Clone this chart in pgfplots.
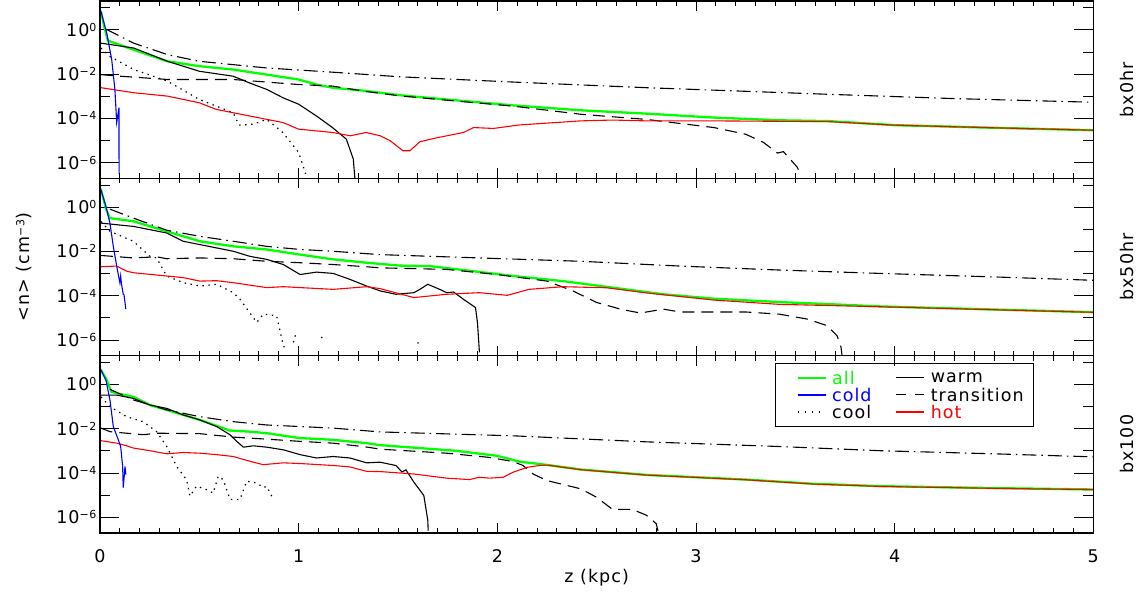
\documentclass[border=0pt]{standalone}
\usepackage{fontspec}
\setmainfont{DejaVu Sans}[LetterSpace=6]
\usepackage{pgfplots}
\pgfplotsset{compat=1.18}

\definecolor{allc}{RGB}{0,255,0}
\definecolor{coldc}{RGB}{0,0,255}
\definecolor{hotc}{RGB}{255,0,0}

\newcommand\figfont{\fontsize{17.5pt}{21pt}\selectfont}
\newcommand\supr[1]{\raisebox{5pt}{\fontsize{11pt}{11pt}\selectfont #1}}

% shared frame of every panel
\pgfplotsset{
  frame/.style={
    scale only axis, width=993.3pt, height=177.3pt,
    xmin=0, xmax=5, ymin=2e-7, ymax=2e1,
    tick align=inside,
    every tick/.append style={black, line width=0.9pt},
    axis line style={line width=1.2pt},
    tick label style={font=\figfont},
    label style={font=\figfont},
    unbounded coords=jump, clip mode=individual,
  },
  % decade ticks on the log axis (long)
  yside/.style={frame,
    xtick=\empty, minor x tick num=0,
    ytick={1e-6,1e-4,1e-2,1}, minor ytick={1e-5,1e-3,1e-1,10},
    yticklabels={10\supr{−6},10\supr{−4},10\supr{−2},10\supr{0}},
    major tick length=19pt, minor tick length=10pt,
    yticklabel style={anchor=base east, yshift=-6.4pt},
  },
  % distance ticks (short), drawn on an overlay of the same frame
  xside/.style={frame,
    ytick=\empty, yticklabels={},
    xtick={0,1,2,3,4,5}, minor x tick num=9,
    major tick length=10pt, minor tick length=5pt,
    xticklabel style={yshift=-13pt},
  },
  allline/.style={allc, line width=2.3pt, forget plot},
  warmline/.style={black, line width=1.1pt, forget plot},
  transline/.style={black, line width=1.1pt, dash pattern=on 12pt off 7pt, forget plot},
  coolline/.style={black, line width=1.2pt, dash pattern=on 1.4pt off 4.6pt, forget plot},
  refline/.style={black, line width=1.1pt, dash pattern=on 14pt off 5pt on 1.5pt off 5pt, forget plot},
  hotline/.style={hotc, line width=1.1pt, forget plot},
  coldline/.style={coldc, line width=1.1pt, forget plot},
}

\begin{document}
\begin{tikzpicture}
\useasboundingbox (0pt,0pt) rectangle (1143pt,603pt);

% ---------------- bx0hr ----------------
\begin{semilogyaxis}[yside, at={(100pt,424.7pt)}, anchor=south west]
\addplot[allline] coordinates {(0,7.1) (0.005,6.6) (0.02,1.6) (0.04,0.32) (0.05,0.30) (0.17,0.126) (0.34,0.038) (0.50,0.0229) (0.67,0.0162) (0.84,9.5e-3) (1.0,5.75e-3) (1.09,3.39e-3) (1.17,2.45e-3) (1.34,1.75e-3) (1.51,1.12e-3) (1.745,7.2e-4) (2.08,3.9e-4) (2.42,2.34e-4) (2.75,1.66e-4) (3.09,1.10e-4) (3.42,8.3e-5) (3.67,7.6e-5) (4.0,5.0e-5) (4.5,3.8e-5) (5.0,2.95e-5)};
\addplot[refline] coordinates {(0.03,1.07) (0.17,0.25) (0.34,0.076) (0.50,0.038) (0.84,0.019) (1.17,0.0123) (1.51,7.6e-3) (2.08,4.4e-3) (2.75,2.45e-3) (3.67,1.23e-3) (4.3,7.9e-4) (5.0,5.4e-4)};
\addplot[coolline] coordinates {(0.005,0.151) (0.05,0.063) (0.17,0.0162) (0.34,4.8e-3) (0.50,7.2e-4) (0.67,1.82e-4) (0.70,5.0e-5) (0.77,5.5e-5) (0.84,9.1e-5) (0.92,2.34e-5) (1.0,2.95e-6) (1.035,3.2e-7)};
\addplot[warmline] coordinates {(0.005,0.25) (0.17,0.151) (0.34,0.038) (0.50,0.0135) (0.67,8.1e-3) (0.75,4.1e-3) (0.84,2.04e-3) (0.92,8.7e-4) (1.0,4.4e-4) (1.09,1.29e-4) (1.17,3.9e-5) (1.24,1.17e-5) (1.275,1.48e-6) (1.283,2.0e-7)};
\addplot[transline] coordinates {(0.005,9.5e-3) (0.1,8.1e-3) (0.34,5.75e-3) (0.67,5.75e-3) (1.0,3.4e-3) (1.17,2.9e-3) (1.34,1.65e-3) (1.51,1.05e-3) (1.745,6.7e-4) (2.08,3.6e-4) (2.42,1.55e-4) (2.75,9.1e-5) (3.09,3.9e-5) (3.25,1.95e-5) (3.34,8.3e-6) (3.41,2.75e-6) (3.44,3.2e-6) (3.51,6.3e-7) (3.52,4.0e-7)};
\addplot[hotline] coordinates {(0.005,2.45e-3) (0.17,1.45e-3) (0.34,1.02e-3) (0.50,5.1e-4) (0.585,2.57e-4) (0.67,1.82e-4) (0.84,9.1e-5) (0.92,6.6e-5) (1.0,3.3e-5) (1.09,2.75e-5) (1.17,2.34e-5) (1.26,1.66e-5) (1.34,2.34e-5) (1.41,1.66e-5) (1.46,1.0e-5) (1.525,3.5e-6) (1.56,3.5e-6) (1.61,8.9e-6) (1.68,1.26e-5) (1.83,2.34e-5) (1.88,3.9e-5) (1.98,3.55e-5) (2.11,5.1e-5) (2.42,7.8e-5) (2.58,8.5e-5) (2.75,7.8e-5) (3.09,7.8e-5) (3.67,7.2e-5) (4.0,5.0e-5) (4.5,3.8e-5) (5.0,2.95e-5)};
\addplot[coldline] coordinates {(0,7.1) (0.005,6.6) (0.034,0.71) (0.059,0.045) (0.075,2.04e-3) (0.084,6.6e-5) (0.0955,3.1e-4) (0.096,3.2e-7)};
\node[rotate=90, font=\figfont] at (axis description cs:1.034,0.5) {bx0hr};
\end{semilogyaxis}
\begin{semilogyaxis}[xside, at={(100pt,424.7pt)}, anchor=south west, xticklabels={}]
\end{semilogyaxis}

% ---------------- bx50hr ----------------
\begin{semilogyaxis}[yside, at={(100pt,247.4pt)}, anchor=south west,
  ylabel={<n> (cm\supr{−3})},
  ylabel style={at={(axis description cs:-0.0765,0.5)}, anchor=center}]
\addplot[allline] coordinates {(0,7.0) (0.005,6.0) (0.032,0.76) (0.049,0.32) (0.168,0.23) (0.336,0.081) (0.503,0.0288) (0.671,0.0170) (0.839,0.0123) (1.007,7.2e-3) (1.174,4.4e-3) (1.342,3.1e-3) (1.51,2.3e-3) (1.66,2.19e-3) (1.83,1.45e-3) (2.08,7.8e-4) (2.33,4.6e-4) (2.58,2.34e-4) (2.835,1.17e-4) (3.09,7.4e-5) (3.42,5.2e-5) (3.67,4.2e-5) (3.93,3.3e-5) (4.5,2.4e-5) (5.0,1.82e-5)};
\addplot[refline] coordinates {(0.05,0.81) (0.168,0.32) (0.336,0.091) (0.503,0.048) (0.671,0.0288) (0.839,0.017) (1.007,0.0123) (1.174,0.0102) (1.41,7.2e-3) (1.91,5.1e-3) (2.42,3.6e-3) (2.92,2.19e-3) (3.42,1.45e-3) (3.93,1.02e-3) (4.5,7.1e-4) (5.0,5.0e-4)};
\addplot[coolline] coordinates {(0.005,0.224) (0.05,0.081) (0.168,0.0288) (0.252,6.0e-3) (0.285,5.1e-3) (0.336,7.8e-4) (0.419,3.9e-4) (0.503,2.75e-4) (0.587,3.3e-4) (0.671,1.38e-4) (0.705,6.9e-5) (0.789,6.3e-6) (0.822,1.48e-5) (0.889,1.26e-5) (0.923,5.6e-7) (0.939,3.3e-7) (0.95,nan) (0.973,7.9e-7) (0.99,2.6e-6) (1.0,nan) (1.115,1.4e-6) (1.12,1.1e-6) (1.3,nan) (1.6,8e-7) (1.605,5e-7)};
\addplot[warmline] coordinates {(0.005,0.19) (0.168,0.135) (0.336,0.068) (0.419,0.0288) (0.503,0.0204) (0.671,0.0102) (0.755,6.0e-3) (0.839,4.4e-3) (0.923,2.57e-3) (1.007,9.1e-4) (1.09,1.17e-3) (1.174,1.02e-3) (1.258,5.5e-4) (1.342,2.75e-4) (1.41,1.66e-4) (1.49,1.17e-4) (1.58,1.38e-4) (1.61,1.95e-4) (1.65,3.3e-4) (1.71,1.95e-4) (1.745,1.38e-4) (1.78,1.48e-4) (1.83,6.9e-5) (1.89,2.95e-5) (1.90,6.3e-6) (1.91,2.8e-7)};
\addplot[transline] coordinates {(0.005,6.6e-3) (0.168,5.1e-3) (0.285,5.75e-3) (0.336,4.7e-3) (0.503,5.1e-3) (0.671,4.7e-3) (0.839,3.6e-3) (1.007,3.1e-3) (1.174,2.57e-3) (1.342,2.04e-3) (1.41,1.82e-3) (1.745,1.55e-3) (2.0,9.1e-4) (2.25,4.6e-4) (2.38,1.66e-4) (2.5,5.0e-5) (2.62,2.5e-5) (2.72,1.66e-5) (2.835,2.5e-5) (2.92,1.86e-5) (3.09,1.86e-5) (3.25,1.86e-5) (3.42,1.48e-5) (3.56,8.9e-6) (3.66,4.5e-6) (3.71,1.58e-6) (3.73,4.8e-7) (3.735,2.1e-7)};
\addplot[hotline] coordinates {(0.005,2.04e-3) (0.084,2.2e-3) (0.134,1.29e-3) (0.168,1.1e-3) (0.336,7.8e-4) (0.419,6.6e-4) (0.503,4.6e-4) (0.587,4.8e-4) (0.671,3.9e-4) (0.839,2.34e-4) (0.923,2.57e-4) (1.174,1.95e-4) (1.342,2.57e-4) (1.41,2.1e-4) (1.58,8.3e-5) (1.745,1.17e-4) (1.91,1.38e-4) (2.05,1.05e-4) (2.16,1.95e-4) (2.33,2.57e-4) (2.55,2.3e-4) (2.75,1.35e-4) (3.09,6.4e-5) (3.42,4.1e-5) (3.93,3.2e-5) (4.5,2.35e-5) (5.0,1.8e-5)};
\addplot[coldline] coordinates {(0,7.0) (0.005,6.0) (0.03,1.07) (0.05,0.19) (0.067,0.017) (0.084,2.2e-3) (0.1,3.9e-4) (0.104,7.8e-4) (0.108,3.5e-4) (0.117,1.17e-4) (0.121,1.1e-4) (0.13,2.5e-5)};
\node[rotate=90, font=\figfont] at (axis description cs:1.034,0.5) {bx50hr};
\end{semilogyaxis}
\begin{semilogyaxis}[xside, at={(100pt,247.4pt)}, anchor=south west, xticklabels={}]
\end{semilogyaxis}

% ---------------- bx100 ----------------
\begin{semilogyaxis}[yside, at={(100pt,70.1pt)}, anchor=south west,
  legend columns=2, legend cell align=left,
  legend style={at={(axis description cs:0.680,0.9566)}, anchor=north west,
    draw=black, line width=1pt, fill=white, font=\figfont,
    inner xsep=10pt, inner ysep=7.5pt, row sep=3.7pt,
    nodes={inner sep=0pt, text depth=0pt},
    /tikz/every odd column/.style={column sep=6pt},
    /tikz/every even column/.style={column sep=13pt}},
  legend image code/.code={\path (-11pt,0pt); \draw[#1] (0pt,0pt) -- (28pt,0pt);}]
\addlegendimage{draw=allc, line width=1.2pt}\addlegendentry{\textcolor{allc}{all}}
\addlegendimage{draw=black, line width=1.1pt}\addlegendentry{warm}
\addlegendimage{draw=coldc, line width=1.2pt}\addlegendentry{\textcolor{coldc}{cold}}
\addlegendimage{draw=black, line width=1.1pt, dash pattern=on 10pt off 9pt}\addlegendentry{transition}
\addlegendimage{draw=black, line width=1.2pt, dash pattern=on 1.5pt off 5.5pt}\addlegendentry{cool}
\addlegendimage{draw=hotc, line width=1.2pt}\addlegendentry{\textcolor{hotc}{hot}}
\addplot[allline] coordinates {(0,5.0) (0.005,4.4) (0.03,1.86) (0.057,0.47) (0.084,0.40) (0.168,0.275) (0.252,0.117) (0.336,0.071) (0.503,0.025) (0.654,8.3e-3) (0.755,7.4e-3) (0.839,6.3e-3) (1.007,3.8e-3) (1.174,3.16e-3) (1.342,2.24e-3) (1.41,1.82e-3) (1.79,1.02e-3) (2.0,6.0e-4) (2.11,3.3e-4) (2.25,2.34e-4) (2.42,1.45e-4) (2.75,8.3e-5) (3.25,5.1e-5) (3.59,3.3e-5) (3.93,2.57e-5) (4.5,2.1e-5) (5.0,1.82e-5)};
\addplot[refline] coordinates {(0.05,0.6) (0.168,0.2) (0.336,0.071) (0.503,0.035) (0.671,0.0209) (0.839,0.0148) (1.007,0.0126) (1.174,0.0107) (1.41,7.2e-3) (2.08,4.8e-3) (2.75,2.57e-3) (3.42,1.58e-3) (3.93,1.02e-3) (4.5,7.4e-4) (5.0,5.4e-4)};
\addplot[coolline] coordinates {(0.005,0.275) (0.05,0.1) (0.134,0.035) (0.218,0.0209) (0.285,7.4e-3) (0.336,1.58e-3) (0.386,2.0e-4) (0.436,5.0e-5) (0.453,9.1e-6) (0.486,2.6e-5) (0.537,1.78e-5) (0.57,1.26e-5) (0.595,7.2e-5) (0.621,5.0e-5) (0.654,6.5e-6) (0.705,6.5e-6) (0.738,4.3e-5) (0.789,3.6e-5) (0.822,2.2e-5) (0.839,2.5e-5) (0.873,6.5e-6)};
\addplot[warmline] coordinates {(0.005,0.33) (0.084,0.33) (0.168,0.234) (0.252,0.117) (0.336,0.083) (0.419,0.042) (0.503,0.025) (0.587,0.0126) (0.654,5.4e-3) (0.688,2.7e-3) (0.722,1.48e-3) (0.772,1.7e-3) (0.839,1.48e-3) (0.923,1.12e-3) (1.007,6.8e-4) (1.09,4.8e-4) (1.174,5.6e-4) (1.258,4.8e-4) (1.342,2.9e-4) (1.41,3.1e-4) (1.49,2.19e-4) (1.52,1.12e-4) (1.54,1.4e-4) (1.58,3.9e-5) (1.63,9.8e-6) (1.65,7.4e-7) (1.652,2.5e-7)};
\addplot[transline] coordinates {(0.005,0.0107) (0.05,7.4e-3) (0.134,6.3e-3) (0.218,5.4e-3) (0.285,6.3e-3) (0.503,6.0e-3) (0.671,4.2e-3) (0.839,3.4e-3) (1.007,2.7e-3) (1.174,2.24e-3) (1.342,1.5e-3) (1.41,1.2e-3) (1.745,7.9e-4) (1.96,5.1e-4) (2.08,3.3e-4) (2.13,2.19e-4) (2.18,9.1e-5) (2.25,4.6e-5) (2.42,1.95e-5) (2.5,8.1e-6) (2.58,2.29e-6) (2.68,2.29e-6) (2.75,1.26e-6) (2.8,5.2e-7) (2.81,2.2e-7)};
\addplot[hotline] coordinates {(0.005,2.9e-3) (0.084,2.24e-3) (0.134,1.7e-3) (0.168,1.35e-3) (0.252,1.02e-3) (0.336,7.4e-4) (0.419,8.5e-4) (0.503,7.9e-4) (0.587,6.8e-4) (0.671,5.6e-4) (0.755,3.4e-4) (0.822,2.4e-4) (0.923,2.9e-4) (1.007,2.7e-4) (1.174,2.2e-4) (1.258,1.9e-4) (1.342,1.2e-4) (1.41,1.17e-4) (1.58,9.1e-5) (1.745,5.9e-5) (1.86,5.1e-5) (1.91,6.5e-5) (1.96,5.9e-5) (2.03,6.5e-5) (2.08,1.1e-4) (2.15,1.82e-4) (2.21,2.19e-4) (2.25,2.3e-4) (2.42,1.42e-4) (2.75,8.1e-5) (3.25,5.0e-5) (3.59,3.2e-5) (3.93,2.5e-5) (4.5,2.05e-5) (5.0,1.8e-5)};
\addplot[coldline] coordinates {(0,5.0) (0.005,4.4) (0.03,1.55) (0.05,0.2) (0.067,0.0126) (0.092,3.2e-3) (0.104,1.58e-3) (0.114,2.0e-4) (0.117,2.2e-5) (0.126,2.0e-4) (0.13,8.5e-5)};
\node[rotate=90, font=\figfont] at (axis description cs:1.034,0.5) {bx100};
\end{semilogyaxis}
\begin{semilogyaxis}[xside, at={(100pt,70.1pt)}, anchor=south west,
  xticklabels={0,1,2,3,4,5},
  xlabel={z (kpc)},
  xlabel style={at={(axis description cs:0.5,-0.254)}, anchor=center}]
\end{semilogyaxis}
\end{tikzpicture}
\end{document}
